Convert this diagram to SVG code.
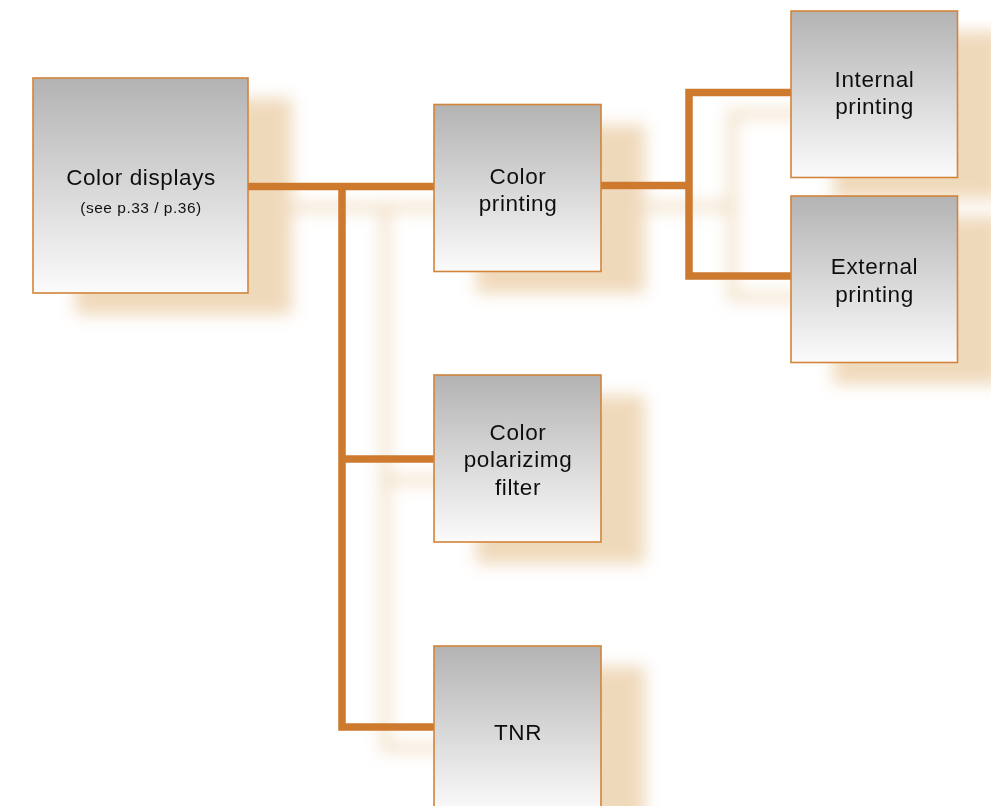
<svg xmlns="http://www.w3.org/2000/svg" width="991" height="806" viewBox="0 0 991 806">
  <defs>
    <linearGradient id="boxGrad" x1="0" y1="0" x2="0" y2="1">
      <stop offset="0" stop-color="#b3b3b3"/>
      <stop offset="1" stop-color="#fbfbfb"/>
    </linearGradient>
    <filter id="shadow" filterUnits="userSpaceOnUse" x="0" y="0" width="991" height="806">
      <feGaussianBlur in="SourceAlpha" stdDeviation="8" result="blur"/>
      <feOffset in="blur" dx="43" dy="21" result="off"/>
      <feFlood flood-color="#e0b478" flood-opacity="0.5" result="col"/>
      <feComposite in="col" in2="off" operator="in" result="sh"/>
      <feMerge>
        <feMergeNode in="sh"/>
        <feMergeNode in="SourceGraphic"/>
      </feMerge>
    </filter>
    <style>
      .box { fill: url(#boxGrad); stroke: #d3843a; stroke-width: 1.6; }
      .conn { fill: none; stroke: #cd7a2f; stroke-width: 7.5; stroke-linejoin: miter; stroke-linecap: butt; }
      .lbl { font-family: "Liberation Sans", Arial, sans-serif; font-size: 22.5px; fill: #111111; text-anchor: middle; letter-spacing: 0.6px; }
      .sub { font-family: "Liberation Sans", Arial, sans-serif; font-size: 15.5px; fill: #111111; text-anchor: middle; letter-spacing: 0.5px; }
    </style>
  </defs>
  <rect x="0" y="0" width="991" height="806" fill="#ffffff"/>
  <g id="diagram" filter="url(#shadow)">
    <g id="connectors">
      <path class="conn" d="M 248 186.5 H 434"/>
      <path class="conn" d="M 342 186.5 V 727 H 434"/>
      <path class="conn" d="M 342 459 H 434"/>
      <path class="conn" d="M 601 185.5 H 689"/>
      <path class="conn" d="M 791 92.5 H 689 V 276 H 791"/>
    </g>
    <g id="node-color-displays">
      <rect class="box" x="33" y="78" width="215" height="215"/>
      <text class="lbl" x="141" y="185">Color displays</text>
      <text class="sub" x="141" y="213">(see p.33 / p.36)</text>
    </g>
    <g id="node-color-printing">
      <rect class="box" x="434" y="104.5" width="167" height="167"/>
      <text class="lbl" x="518" y="184">Color</text>
      <text class="lbl" x="518" y="211">printing</text>
    </g>
    <g id="node-internal-printing">
      <rect class="box" x="791" y="11" width="166.5" height="166.5"/>
      <text class="lbl" x="874.5" y="87">Internal</text>
      <text class="lbl" x="874.5" y="113.5">printing</text>
    </g>
    <g id="node-external-printing">
      <rect class="box" x="791" y="196" width="166.5" height="166.5"/>
      <text class="lbl" x="874.5" y="274">External</text>
      <text class="lbl" x="874.5" y="301.5">printing</text>
    </g>
    <g id="node-color-polarizing-filter">
      <rect class="box" x="434" y="375" width="167" height="167"/>
      <text class="lbl" x="518" y="439.5">Color</text>
      <text class="lbl" x="518" y="467">polarizimg</text>
      <text class="lbl" x="518" y="495">filter</text>
    </g>
    <g id="node-tnr">
      <rect class="box" x="434" y="646" width="167" height="167"/>
      <text class="lbl" x="518" y="740">TNR</text>
    </g>
  </g>
</svg>
